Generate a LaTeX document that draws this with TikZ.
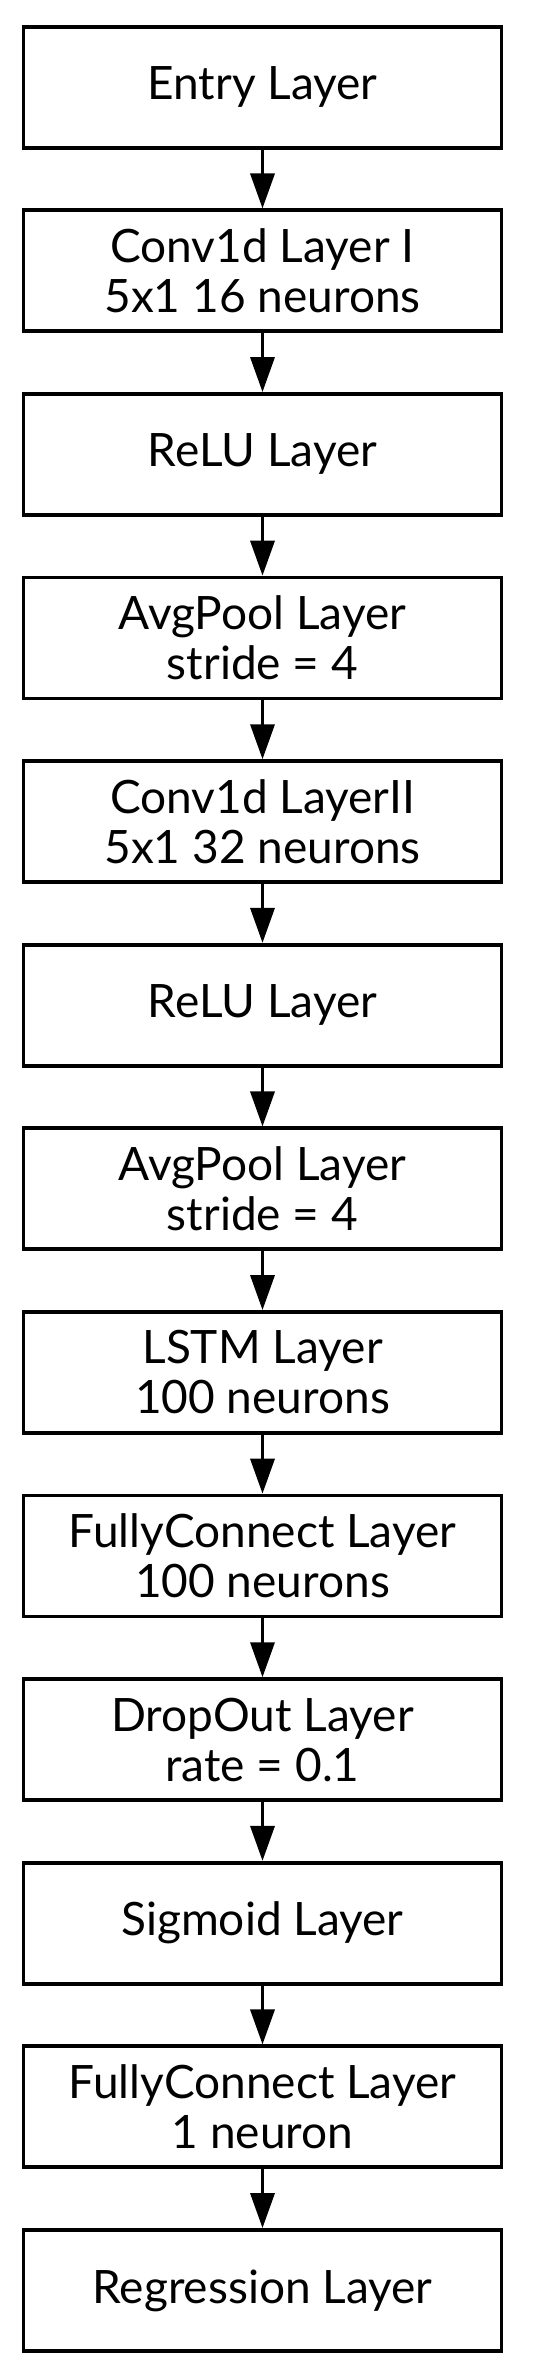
\documentclass[tikz,border=0pt]{standalone}
\usepackage{fontspec}
\setmainfont{Lato}
\usetikzlibrary{arrows.meta}
\tikzset{
  layerbox/.style={draw=black, line width=3.7bp, rectangle, minimum width=478bp, minimum height=121bp, align=center, inner sep=0pt, font=\fontsize{46bp}{50bp}\selectfont},
  flow/.style={line width=3.5bp, -{Triangle[length=35bp,width=24bp]}}
}
\begin{document}
\begin{tikzpicture}[x=1bp,y=-1bp]
\fill[white] (0,0) rectangle (550,2379);
\useasboundingbox (0,0) rectangle (550,2379);
\node[layerbox] (n1)  at (262.5, 87.2) {Entry Layer};
\node[layerbox] (n2)  at (262.5, 270.8) {Conv1d Layer I\\5x1 16 neurons};
\node[layerbox] (n3)  at (262.5, 454.4) {ReLU Layer};
\node[layerbox] (n4)  at (262.5, 638.0) {AvgPool Layer\\stride = 4};
\node[layerbox] (n5)  at (262.5, 821.6) {Conv1d LayerII\\5x1 32 neurons};
\node[layerbox] (n6)  at (262.5, 1005.2) {ReLU Layer};
\node[layerbox] (n7)  at (262.5, 1188.8) {AvgPool Layer\\stride = 4};
\node[layerbox] (n8)  at (262.5, 1372.4) {LSTM Layer\\100 neurons};
\node[layerbox] (n9)  at (262.5, 1556.0) {FullyConnect Layer\\100 neurons};
\node[layerbox] (n10) at (262.5, 1739.6) {DropOut Layer\\rate = 0.1};
\node[layerbox] (n11) at (262.5, 1923.2) {Sigmoid Layer};
\node[layerbox] (n12) at (262.5, 2106.8) {FullyConnect Layer\\1 neuron};
\node[layerbox] (n13) at (262.5, 2290.4) {Regression Layer};
\foreach \a/\b in {n1/n2,n2/n3,n3/n4,n4/n5,n5/n6,n6/n7,n7/n8,n8/n9,n9/n10,n10/n11,n11/n12,n12/n13}
  \draw[flow] (\a.south) -- (\b.north);
\end{tikzpicture}
\end{document}
